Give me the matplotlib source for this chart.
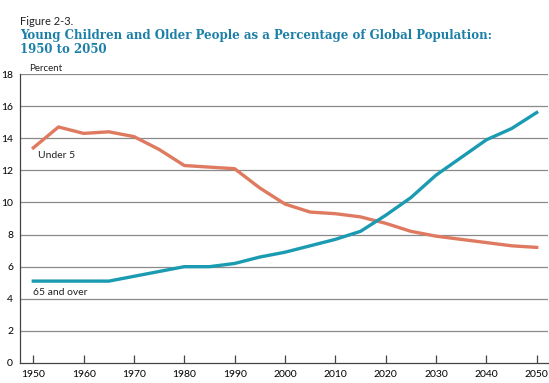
import matplotlib
matplotlib.use("Agg")
import matplotlib.pyplot as plt

# --- data -------------------------------------------------------------------
years = [1950, 1955, 1960, 1965, 1970, 1975, 1980, 1985, 1990, 1995, 2000,
         2005, 2010, 2015, 2020, 2025, 2030, 2035, 2040, 2045, 2050]
under5 = [13.4, 14.7, 14.3, 14.4, 14.1, 13.3, 12.3, 12.2, 12.1, 10.9, 9.9,
          9.4, 9.3, 9.1, 8.7, 8.2, 7.9, 7.7, 7.5, 7.3, 7.2]
over65 = [5.1, 5.1, 5.1, 5.1, 5.4, 5.7, 6.0, 6.0, 6.2, 6.6, 6.9,
          7.3, 7.7, 8.2, 9.2, 10.3, 11.7, 12.8, 13.9, 14.6, 15.6]
x_ticks = [1950, 1960, 1970, 1980, 1990, 2000, 2010, 2020, 2030, 2040, 2050]
y_ticks = [0, 2, 4, 6, 8, 10, 12, 14, 16, 18]

ORANGE = "#DF7A60"
TEAL = "#1A9BB2"
TITLE_BLUE = "#1B7FA8"
W, H = 549, 383

plt.rcParams["font.family"] = ["Lato", "DejaVu Sans"]

fig = plt.figure(figsize=(W / 100, H / 100), dpi=100)
fig.patch.set_facecolor("white")

# axes box in pixels: left spine x=20, bottom y=363, top gridline y=74
ax = fig.add_axes([20 / W, (H - 363) / H, (548 - 20) / W, (363 - 74) / H])
px_per_year = (536.7 - 33.3) / 100
ax.set_xlim(1950 - (33.3 - 20) / px_per_year, 1950 + (548 - 33.3) / px_per_year)
ax.set_ylim(0, 18)

for y in y_ticks[1:]:
    ax.axhline(y, color="#8a8a8a", lw=0.9, zorder=1)

ax.plot(years, under5, color=ORANGE, lw=2.4, zorder=3, solid_joinstyle="round")
ax.plot(years, over65, color=TEAL, lw=2.4, zorder=3, solid_joinstyle="round")

ax.text(1951.0, 12.95, "Under 5", fontsize=7.5, color="#222222", va="center")
ax.text(1950.0, 4.4, "65 and over", fontsize=7.5, color="#222222", va="center")

for side in ("top", "right"):
    ax.spines[side].set_visible(False)
for side in ("left", "bottom"):
    ax.spines[side].set_color("#444444")
    ax.spines[side].set_linewidth(0.9)

ax.set_xticks(x_ticks)
ax.set_yticks(y_ticks)
ax.tick_params(axis="x", direction="in", length=6, width=0.9, color="#444444",
               labelsize=7.5, pad=5)
ax.tick_params(axis="y", length=0, labelsize=7.5, pad=5)

# --- titles ------------------------------------------------------------------
fig.text(20 / W, 1 - 25 / H, "Figure 2-3.", fontsize=8, color="#222222",
         ha="left", va="baseline")
fig.text(20 / W, 1 - 39 / H, "Young Children and Older People as a Percentage of Global Population:",
         fontsize=8.5, fontweight="bold", family="DejaVu Serif", color=TITLE_BLUE,
         ha="left", va="baseline")
fig.text(20 / W, 1 - 53 / H, "1950 to 2050", fontsize=8.5, fontweight="bold",
         family="DejaVu Serif", color=TITLE_BLUE, ha="left", va="baseline")
fig.text(29 / W, 1 - 71 / H, "Percent", fontsize=7, color="#222222",
         ha="left", va="baseline")

fig.savefig("out.png", dpi=100, facecolor="white")
